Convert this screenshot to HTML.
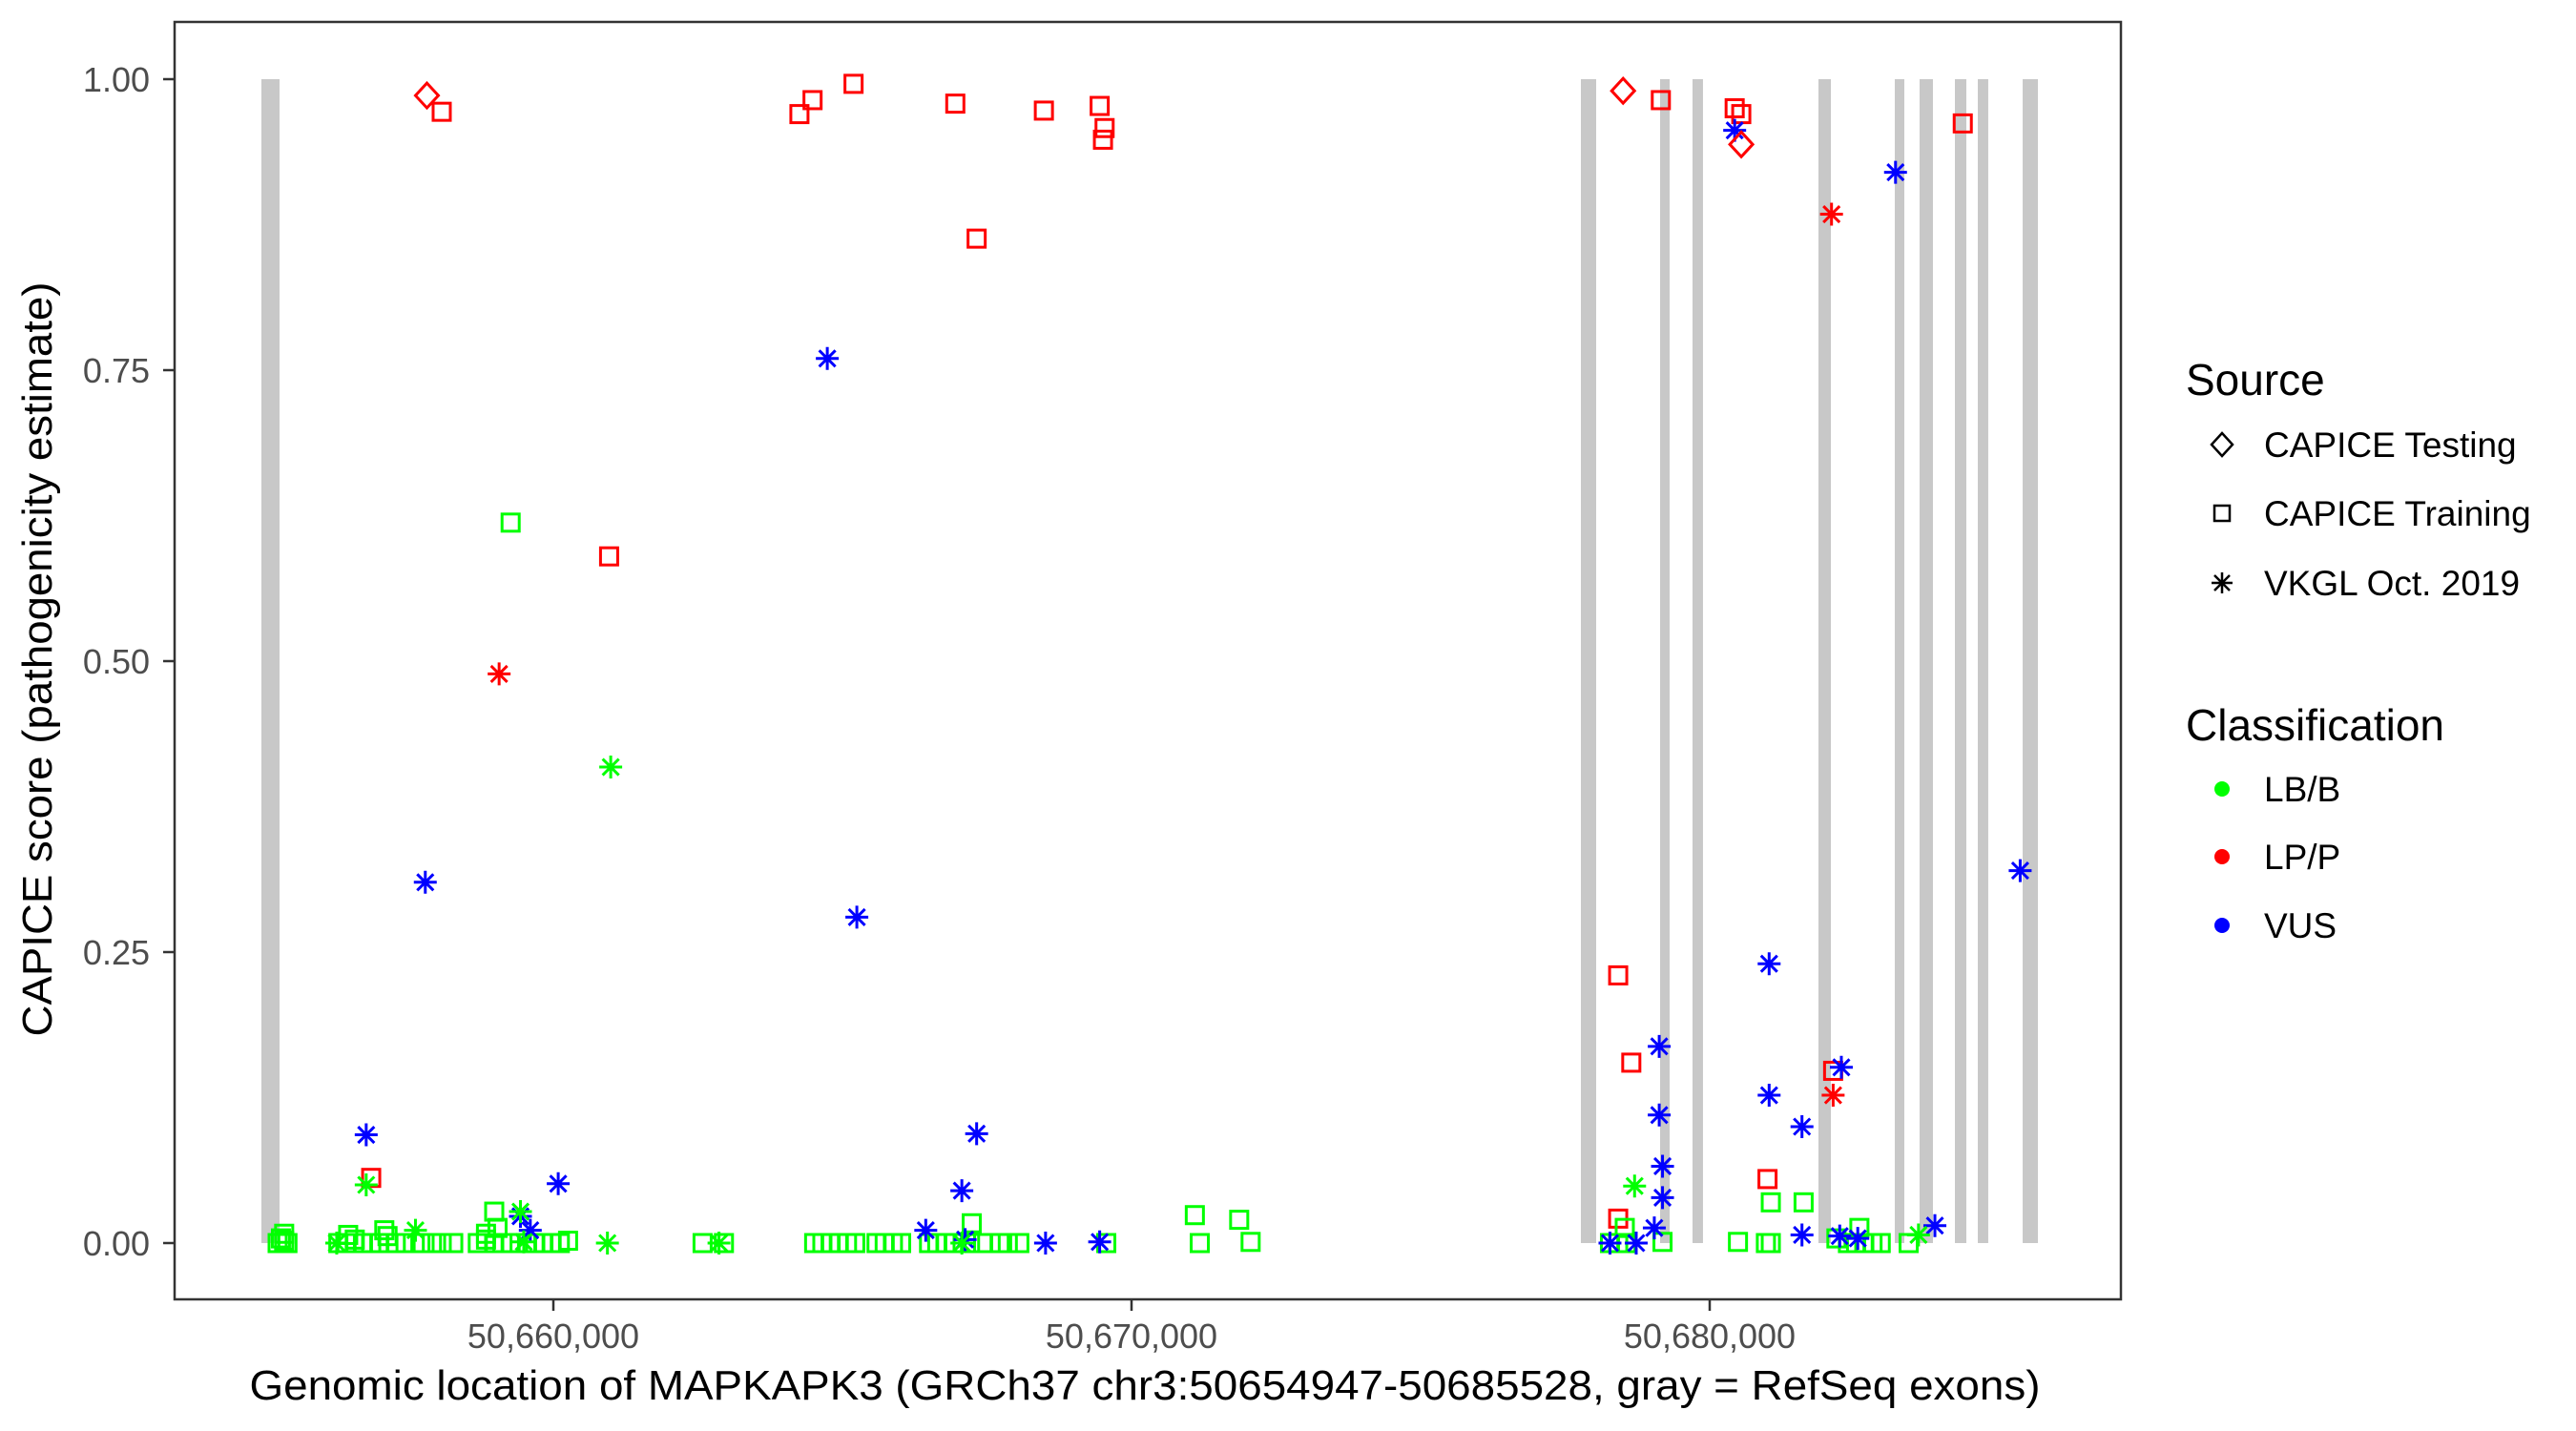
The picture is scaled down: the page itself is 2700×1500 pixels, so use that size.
<!DOCTYPE html>
<html><head><meta charset="utf-8"><style>
html,body{margin:0;padding:0;background:#fff;}
svg{display:block;font-family:"Liberation Sans",Arial,sans-serif;}
</style></head><body>
<svg id="chart" width="2700" height="1500" viewBox="0 0 2700 1500" xmlns="http://www.w3.org/2000/svg">
<rect x="0" y="0" width="2700" height="1500" fill="#fff"/>
<g id="exons"></g>
<g id="points"></g>
<rect x="183" y="23" width="2040" height="1339" fill="none" stroke="#333" stroke-width="2.5"/>
<g id="axes"></g>
<text x="1200" y="1467" font-size="44" text-anchor="middle" textLength="1877" lengthAdjust="spacingAndGlyphs" fill="#000">Genomic location of MAPKAPK3 (GRCh37 chr3:50654947-50685528, gray = RefSeq exons)</text>
<text transform="translate(54,691) rotate(-90)" font-size="44" text-anchor="middle" textLength="791" lengthAdjust="spacingAndGlyphs" fill="#000">CAPICE score (pathogenicity estimate)</text>
<g>
<text x="2291" y="414" font-size="46" fill="#000">Source</text>
<g>
<path d="M2329 454 L2340 466 L2329 478 L2318 466 Z" fill="none" stroke="#000" stroke-width="2.5"/>
<text x="2373" y="479" font-size="37" fill="#000">CAPICE Testing</text></g>
<g>
<rect x="2321" y="530" width="16" height="16" fill="none" stroke="#000" stroke-width="2.5"/>
<text x="2373" y="551" font-size="37" fill="#000">CAPICE Training</text></g>
<g>
<path d="M2329 600 V622 M2318 611 H2340 M2321 603 L2337 619 M2337 603 L2321 619" stroke="#000" stroke-width="2.5"/>
<text x="2373" y="624" font-size="37" fill="#000">VKGL Oct. 2019</text></g>
</g>
<g>
<text x="2291" y="776" font-size="46" fill="#000">Classification</text>
<g><circle cx="2329" cy="827" r="8" fill="#00ff00"/><text x="2373" y="840" font-size="37" fill="#000">LB/B</text></g>
<g><circle cx="2329" cy="898" r="8" fill="#ff0000"/><text x="2373" y="911" font-size="37" fill="#000">LP/P</text></g>
<g><circle cx="2329" cy="970" r="8" fill="#0000ff"/><text x="2373" y="983" font-size="37" fill="#000">VUS</text></g>
</g>
</svg>
<script>
const xTicks = [50660000, 50670000, 50680000];
const xTickLabels = ["50,660,000", "50,670,000", "50,680,000"];
const yTicks = [0, 0.25, 0.5, 0.75, 1];
const yTickLabels = ["0.00", "0.25", "0.50", "0.75", "1.00"];
const exonStarts = [50654950, 50677772, 50679142, 50679703, 50681881, 50683201, 50683630, 50684241, 50684637, 50685413];
const exonEnds   = [50655264, 50678036, 50679307, 50679884, 50682096, 50683366, 50683861, 50684439, 50684818, 50685677];
const testingPos = [50657813, 50678502, 50680546];
const testingScore = [0.986, 0.990, 0.944];
const testingClass = ["LP/P","LP/P","LP/P"];
const trainingPos = [50658069,50664256,50664483,50665192,50666952,50668484,50669449,50669534,50669506,50667321,50660964,50679155,50680432,50680546,50684377,50678417,50678644,50681000,50682135,50678417,50656849,
 50659261,50671095,50671862,50681057,50681624,50667236,50658977,
 50655231,50655288,50655344,50655401,50656281,50656423,50656565,50656707,50656849,50656990,50657132,50657274,50657444,50657700,50657899,50658069,50658268,50658693,50658835,50658977,50659119,50659261,50659545,50659687,50659828,50659970,50660112,50660254,
 50662581,50662950,50664511,50664653,50664795,50664937,50665079,50665221,50665590,50665731,50665873,50666015,50666498,50666640,50666782,50666923,50667207,50667434,50667718,50667860,50668059,50669563,50671180,50672060,
 50678275,50678417,50678559,50679184,50680489,50680972,50681057,50682391,50682532,50682674,50682816,50682958,50683441,
 50657076,50659034,50658835,50655344,50678531,50682589,50682192,50656451];
const trainingScore = [0.972,0.970,0.982,0.996,0.979,0.973,0.977,0.958,0.948,0.863,0.590,0.982,0.975,0.970,0.962,0.230,0.155,0.055,0.148,0.021,0.056,
 0.619,0.024,0.020,0.035,0.035,0.017,0.027,
 0,0.004,0.002,0,0,0,0.003,0,0,0,0.006,0,0,0,0,0,0,0,0.003,0,0,0,0,0,0,0,0,0.002,
 0,0,0,0,0,0,0,0,0,0,0,0,0,0,0,0,0,0,0,0,0,0,0,0.001,
 0,0,0,0.001,0.001,0,0,0,0,0,0,0,0,
 0.011,0.013,0.008,0.008,0.013,0.013,0.004,0.007];
const trainingClass = ["LP/P","LP/P","LP/P","LP/P","LP/P","LP/P","LP/P","LP/P","LP/P","LP/P","LP/P","LP/P","LP/P","LP/P","LP/P","LP/P","LP/P","LP/P","LP/P","LP/P","LP/P",
 "LB/B","LB/B","LB/B","LB/B","LB/B","LB/B","LB/B",
 "LB/B","LB/B","LB/B","LB/B","LB/B","LB/B","LB/B","LB/B","LB/B","LB/B","LB/B","LB/B","LB/B","LB/B","LB/B","LB/B","LB/B","LB/B","LB/B","LB/B","LB/B","LB/B","LB/B","LB/B","LB/B","LB/B","LB/B","LB/B",
 "LB/B","LB/B","LB/B","LB/B","LB/B","LB/B","LB/B","LB/B","LB/B","LB/B","LB/B","LB/B","LB/B","LB/B","LB/B","LB/B","LB/B","LB/B","LB/B","LB/B","LB/B","LB/B","LB/B","LB/B",
 "LB/B","LB/B","LB/B","LB/B","LB/B","LB/B","LB/B","LB/B","LB/B","LB/B","LB/B","LB/B","LB/B",
 "LB/B","LB/B","LB/B","LB/B","LB/B","LB/B","LB/B","LB/B"];
const vkglPos = [50659062,50682107,50682135,
 50664738,50657785,50665249,50683214,50680432,50685370,50681028,50679127,50681028,50682277,50679127,50681596,50679184,50679184,50656763,50667321,50660084,50667065,50666441,50659431,50659601,50667122,50668513,50669449,50679042,50678275,50678729,50681596,50682249,50682561,50683895,
 50660992,50656763,50678701,50657615,50659431,50660935,50662865,50656253,50683611,50667065,50659488];
const vkglScore = [0.489,0.884,0.127,
 0.760,0.310,0.280,0.920,0.956,0.320,0.240,0.169,0.127,0.151,0.110,0.100,0.066,0.039,0.093,0.094,0.051,0.045,0.011,0.023,0.011,0.003,0,0.001,0.013,0,0,0.007,0.006,0.004,0.015,
 0.409,0.050,0.049,0.011,0.027,0,0,0,0.007,0,0.001];
const vkglClass = ["LP/P","LP/P","LP/P",
 "VUS","VUS","VUS","VUS","VUS","VUS","VUS","VUS","VUS","VUS","VUS","VUS","VUS","VUS","VUS","VUS","VUS","VUS","VUS","VUS","VUS","VUS","VUS","VUS","VUS","VUS","VUS","VUS","VUS","VUS","VUS",
 "LB/B","LB/B","LB/B","LB/B","LB/B","LB/B","LB/B","LB/B","LB/B","LB/B","LB/B"];

const NS = "http://www.w3.org/2000/svg";
const colorOf = {"LB/B":"#00ff00","LP/P":"#ff0000","VUS":"#0000ff"};
function xScale(p){ return 580 + (p - 50660000) * 0.0606; }
function yScale(v){ return 1303 - v * 1220; }
function mk(tag, attrs, parent){ const e=document.createElementNS(NS,tag); for(const k in attrs) e.setAttribute(k, attrs[k]); parent.appendChild(e); return e; }

const exG = document.getElementById('exons');
for (let i=0;i<exonStarts.length;i++){
  const x0=xScale(exonStarts[i]), x1=xScale(exonEnds[i]);
  const r = mk('rect',{x:x0,y:yScale(1),width:Math.max(x1-x0,1),height:yScale(0)-yScale(1),fill:'#c8c8c8'},exG);
  
  
}

const axG = document.getElementById('axes');
for (let i=0;i<xTicks.length;i++){
  const x=xScale(xTicks[i]);
  mk('line',{x1:x,y1:1362,x2:x,y2:1374,stroke:'#333','stroke-width':2.5},axG);
  const t=mk('text',{x:x,y:1413,'font-size':36,'text-anchor':'middle',fill:'#4d4d4d'},axG);
  t.textContent=xTickLabels[i];
  
  
}
for (let i=0;i<yTicks.length;i++){
  const y=yScale(yTicks[i]);
  mk('line',{x1:171,y1:y,x2:183,y2:y,stroke:'#333','stroke-width':2.5},axG);
  const t=mk('text',{x:157,y:y+13,'font-size':36,'text-anchor':'end',fill:'#4d4d4d'},axG);
  t.textContent=yTickLabels[i];
  
  
}

const pG = document.getElementById('points');
function drawPoint(shape, p, v, cls){
  const x=xScale(p), y=yScale(v), c=colorOf[cls];
  let el;
  if (shape==='diamond'){
    el=mk('path',{d:`M${x} ${y-13} L${x+12} ${y} L${x} ${y+13} L${x-12} ${y} Z`,fill:'none',stroke:c,'stroke-width':3},pG);
  } else if (shape==='square'){
    el=mk('rect',{x:x-9,y:y-9,width:18,height:18,fill:'none',stroke:c,'stroke-width':3},pG);
  } else {
    el=mk('path',{d:`M${x} ${y-12} V${y+12} M${x-12} ${y} H${x+12} M${x-8.5} ${y-8.5} L${x+8.5} ${y+8.5} M${x+8.5} ${y-8.5} L${x-8.5} ${y+8.5}`,stroke:c,'stroke-width':3,fill:'none'},pG);
  }
  
  
}
for (let i=0;i<trainingPos.length;i++) drawPoint('square', trainingPos[i], trainingScore[i], trainingClass[i]);
for (let i=0;i<vkglPos.length;i++) drawPoint('asterisk', vkglPos[i], vkglScore[i], vkglClass[i]);
for (let i=0;i<testingPos.length;i++) drawPoint('diamond', testingPos[i], testingScore[i], testingClass[i]);
</script>
</body></html>
